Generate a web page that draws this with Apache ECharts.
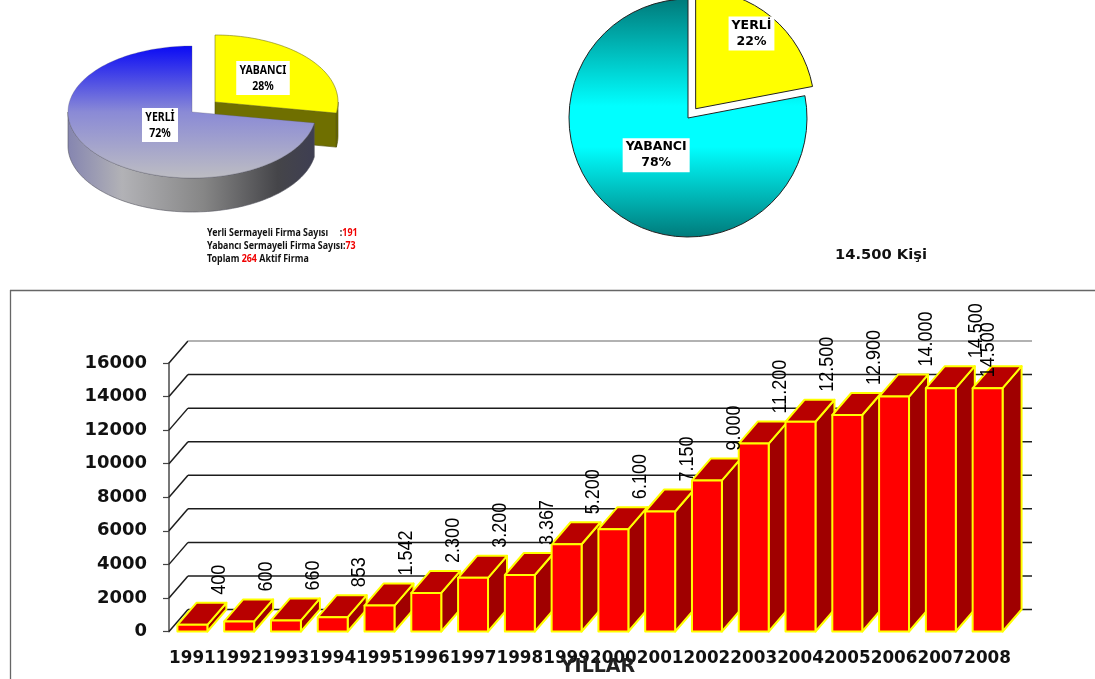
<!DOCTYPE html>
<html>
<head>
<meta charset="utf-8">
<style>html,body{margin:0;padding:0;background:#fff}#c{width:1095px;height:679px}</style>
<script src="https://cdn.jsdelivr.net/npm/echarts@6/dist/echarts.min.js"></script>
</head>
<body>
<div id="c"></div>
<script>
// Firm ownership (3D pie, left)
const firmNames = ['YABANCI', 'YERLİ'];
const firmCounts = [73, 191];
// Workforce ownership (exploded pie, right)
const staffNames = ['YERLİ', 'YABANCI'];
const staffShares = [22, 78];
// Yearly headcount (3D columns)
const years = ['1991','1992','1993','1994','1995','1996','1997','1998','1999','2000','2001','2002','2003','2004','2005','2006','2007','2008'];
const headcount = [400,600,660,853,1542,2300,3200,3367,5200,6100,7150,9000,11200,12500,12900,14000,14500,14500];
const headcountLabels = ['400','600','660','853','1.542','2.300','3.200','3.367','5.200','6.100','7.150','9.000','11.200','12.500','12.900','14.000','14.500','14.500'];
const yTicks = [0,2000,4000,6000,8000,10000,12000,14000,16000];
const xAxisTitle = 'YILLAR';

const FONT_WIDE = '"DejaVu Sans", Verdana, sans-serif';
const FONT_TAHOMA = '"Noto Sans", sans-serif';
const DEPTH_X = 19, DEPTH_Y = 22;
const LG = echarts.graphic.LinearGradient;

// Hand-placed label corrections in px for the crowded columns at the right end
const labelNudge = { '2006': [5, 0], '2007': [8, 0], '2008': [-26, 19] };

// Ellipse geometry of the tilted pie
const ellipse = {
  YABANCI: { cx: 215, cy: 102, rx: 123, ry: 67, h: 34 },
  'YERLİ': { cx: 192, cy: 112, rx: 124, ry: 66, h: 34 }
};
const firmTotal = firmCounts.reduce((a, b) => a + b, 0);

function arcPoints(e, a0, a1, drop) {
  const pts = [];
  const n = Math.max(2, Math.ceil((a1 - a0) / 0.03));
  for (let i = 0; i <= n; i++) {
    const a = a0 + (a1 - a0) * i / n;
    pts.push([e.cx + e.rx * Math.sin(a), e.cy - e.ry * Math.cos(a) + drop]);
  }
  return pts;
}

function renderTiltedSlice(params, api) {
  const i = params.dataIndex;
  const name = firmNames[i];
  const e = ellipse[name];
  let before = 0;
  for (let k = 0; k < i; k++) before += firmCounts[k];
  const a0 = before / firmTotal * Math.PI * 2;
  const a1 = (before + api.value(0)) / firmTotal * Math.PI * 2;
  const isForeign = name === 'YABANCI';
  const children = [];
  const edge = isForeign ? '#4a4a00' : '#55555f';

  // Outer wall: only the part of the rim facing the viewer
  const v0 = Math.max(a0, Math.PI / 2), v1 = Math.min(a1, Math.PI * 1.5);
  if (v1 > v0) {
    const top = arcPoints(e, v0, v1, 0);
    const low = arcPoints(e, v0, v1, e.h).reverse();
    children.push({
      type: 'polygon', shape: { points: top.concat(low) },
      style: {
        fill: isForeign ? '#6f6f00' : new LG(0, 0, 1, 0, [
          { offset: 0, color: '#8585b0' }, { offset: 0.22, color: '#b2b2b6' },
          { offset: 0.55, color: '#868686' }, { offset: 0.85, color: '#454549' },
          { offset: 1, color: '#3e3e52' }
        ]),
        stroke: edge, lineWidth: 0.6
      }
    });
  }
  // Cut face of the pulled-out slice
  if (isForeign) {
    const end = arcPoints(e, a1, a1, 0)[0];
    children.push({
      type: 'polygon',
      shape: { points: [[e.cx, e.cy], end, [end[0], end[1] + e.h], [e.cx, e.cy + e.h]] },
      style: { fill: '#6f6f00', stroke: edge, lineWidth: 0.6 }
    });
  }
  // Top face
  children.push({
    type: 'polygon',
    shape: { points: [[e.cx, e.cy]].concat(arcPoints(e, a0, a1, 0)) },
    style: {
      fill: isForeign ? '#ffff00' : new LG(0, 0, 0, 1, [
        { offset: 0, color: '#0a0af5' }, { offset: 0.5, color: '#8a8ad6' }, { offset: 1, color: '#bdbdc2' }
      ]),
      stroke: isForeign ? '#77771a' : 'rgba(90,90,110,0.5)', lineWidth: 0.6
    }
  });
  // Slice caption in a white box
  const pct = Math.round(api.value(0) / firmTotal * 100);
  const at = isForeign ? [263, 78] : [160, 125];
  children.push({
    type: 'text', x: at[0], y: at[1], z2: 10, scaleX: 0.84, originX: 0,
    style: {
      text: name + '\n' + pct + '%', fill: '#000', font: 'bold 12.5px ' + FONT_TAHOMA,
      align: 'center', verticalAlign: 'middle', lineHeight: 16,
      backgroundColor: '#fff', padding: [1, 4, 1, 4]
    }
  });
  return { type: 'group', children };
}

function renderBackWall(params, api) {
  const v = api.value(1);
  const y = api.coord([0, v])[1];
  const left = params.coordSys.x, right = left + params.coordSys.width;
  const stroke = v === yTicks[yTicks.length - 1] ? '#999' : '#1c1c1c';
  return {
    type: 'group',
    children: [
      { type: 'line', shape: { x1: left, y1: y, x2: left + DEPTH_X, y2: y - DEPTH_Y }, style: { stroke: '#1c1c1c', lineWidth: 1.5 } },
      { type: 'line', shape: { x1: left + DEPTH_X, y1: y - DEPTH_Y, x2: right + DEPTH_X + 2, y2: y - DEPTH_Y }, style: { stroke, lineWidth: 1.5 } }
    ]
  };
}

function renderColumn(params, api) {
  const idx = api.value(0), val = api.value(1);
  const top = api.coord([idx, val]);
  const base = api.coord([idx, 0]);
  const w = api.size([1, 0])[0] * 0.64;
  const l = top[0] - w / 2, r = top[0] + w / 2;
  const style = { stroke: '#ffff00', lineWidth: 2, lineJoin: 'round' };
  return {
    type: 'group',
    children: [
      { type: 'polygon', shape: { points: [[r, top[1]], [r + DEPTH_X, top[1] - DEPTH_Y], [r + DEPTH_X, base[1] - DEPTH_Y], [r, base[1]]] },
        style: Object.assign({ fill: '#a00000' }, style) },
      { type: 'polygon', shape: { points: [[l, top[1]], [r, top[1]], [r + DEPTH_X, top[1] - DEPTH_Y], [l + DEPTH_X, top[1] - DEPTH_Y]] },
        style: Object.assign({ fill: '#b80000' }, style) },
      { type: 'rect', shape: { x: l, y: top[1], width: w, height: base[1] - top[1] },
        style: Object.assign({ fill: '#ff0000' }, style) }
    ]
  };
}

function renderColumnLabel(params, api) {
  const idx = api.value(0), val = api.value(1);
  const top = api.coord([idx, val]);
  const nudge = labelNudge[years[idx]] || [0, 0];
  return {
    type: 'text',
    x: top[0] + 27 + nudge[0],
    y: top[1] - DEPTH_Y - 8 + nudge[1],
    rotation: Math.PI / 2,
    scaleY: 1.15,
    style: {
      text: headcountLabels[idx], fill: '#000',
      font: '18px "Liberation Sans", Arial, sans-serif',
      align: 'left', verticalAlign: 'middle'
    }
  };
}

const chart = echarts.init(document.getElementById('c'), null, { renderer: 'canvas' });
chart.setOption({
  animation: false,
  backgroundColor: '#fff',
  graphic: [
    { type: 'line', shape: { x1: 10, y1: 290.5, x2: 1095, y2: 290.5 }, style: { stroke: '#666', lineWidth: 1.3 } },
    { type: 'line', shape: { x1: 10.5, y1: 290, x2: 10.5, y2: 679 }, style: { stroke: '#666', lineWidth: 1.3 } },
    {
      type: 'text', x: 207, y: 227, scaleX: 0.89,
      style: {
        text: '{a|Yerli Sermayeli Firma Sayısı     :}{r|' + firmCounts[1] + '}\n' +
              '{a|Yabancı Sermayeli Firma Sayısı:}{r|' + firmCounts[0] + '}\n' +
              '{a|Toplam }{r|' + firmTotal + '}{a| Aktif Firma}',
        rich: {
          a: { fill: '#111', font: '700 10px ' + FONT_TAHOMA, lineHeight: 13 },
          r: { fill: '#f00000', font: '700 10px ' + FONT_TAHOMA, lineHeight: 13 }
        }
      }
    },
    {
      type: 'text', x: 835, y: 248,
      style: { text: '14.500 Kişi', fill: '#111', font: 'bold 14.7px ' + FONT_WIDE }
    },
    {
      type: 'text', x: 598, y: 667, z: 10,
      style: { text: xAxisTitle, fill: '#222', font: 'bold 19px ' + FONT_WIDE, align: 'center', verticalAlign: 'middle' }
    }
  ],
  grid: { left: 169, top: 363, width: 842, height: 268.5, containLabel: false, outerBoundsMode: 'none' },
  xAxis: {
    type: 'category', data: years,
    axisLine: { show: false }, axisTick: { show: false },
    axisLabel: { interval: 0, margin: 19, hideOverlap: false, fontFamily: FONT_WIDE, fontWeight: 'bold', fontSize: 16.8, color: '#111' }
  },
  yAxis: {
    type: 'value', min: 0, max: 16000, interval: 2000,
    axisLine: { show: true, lineStyle: { color: '#777', width: 2 } },
    axisTick: { show: true, length: 6, lineStyle: { color: '#444', width: 1.2 } },
    axisLabel: { margin: 22, fontFamily: FONT_WIDE, fontWeight: 'bold', fontSize: 18, color: '#111', formatter: v => String(v) },
    splitLine: { show: false }
  },
  series: [
    { type: 'custom', coordinateSystem: 'none', silent: true, data: firmCounts, renderItem: renderTiltedSlice, clip: false },
    {
      type: 'pie', center: [688, 118], radius: 119, startAngle: 90, clockwise: true,
      selectedMode: 'single', selectedOffset: 12, silent: true,
      itemStyle: { borderColor: '#222', borderWidth: 1 },
      labelLine: { show: false },
      label: {
        show: true, position: 'inside', color: '#000', fontFamily: FONT_WIDE, fontWeight: 'bold', fontSize: 12.5,
        lineHeight: 16, backgroundColor: '#fff', padding: [1, 3, 1, 3],
        formatter: p => p.name + '\n' + p.value + '%'
      },
      labelLayout: p => p.dataIndex === 0 ? { dx: 16, dy: -27 } : { dx: 8, dy: -11 },
      data: [
        { name: staffNames[0], value: staffShares[0], selected: true, itemStyle: { color: '#ffff00' } },
        { name: staffNames[1], value: staffShares[1], itemStyle: { color: new LG(0, 0, 0, 1, [
          { offset: 0, color: '#007a7a' }, { offset: 0.45, color: '#00ffff' },
          { offset: 0.62, color: '#00ffff' }, { offset: 1, color: '#007a7a' }
        ]) } }
      ]
    },
    { type: 'custom', coordinateSystem: 'cartesian2d', silent: true, clip: false, z: 1,
      data: yTicks.map(v => [0, v]), renderItem: renderBackWall },
    { type: 'custom', coordinateSystem: 'cartesian2d', silent: true, clip: false, z: 2,
      data: headcount.map((v, i) => [i, v]), renderItem: renderColumn },
    { type: 'custom', coordinateSystem: 'cartesian2d', silent: true, clip: false, z: 3,
      data: headcount.map((v, i) => [i, v]), renderItem: renderColumnLabel }
  ]
});
</script>
</body>
</html>
